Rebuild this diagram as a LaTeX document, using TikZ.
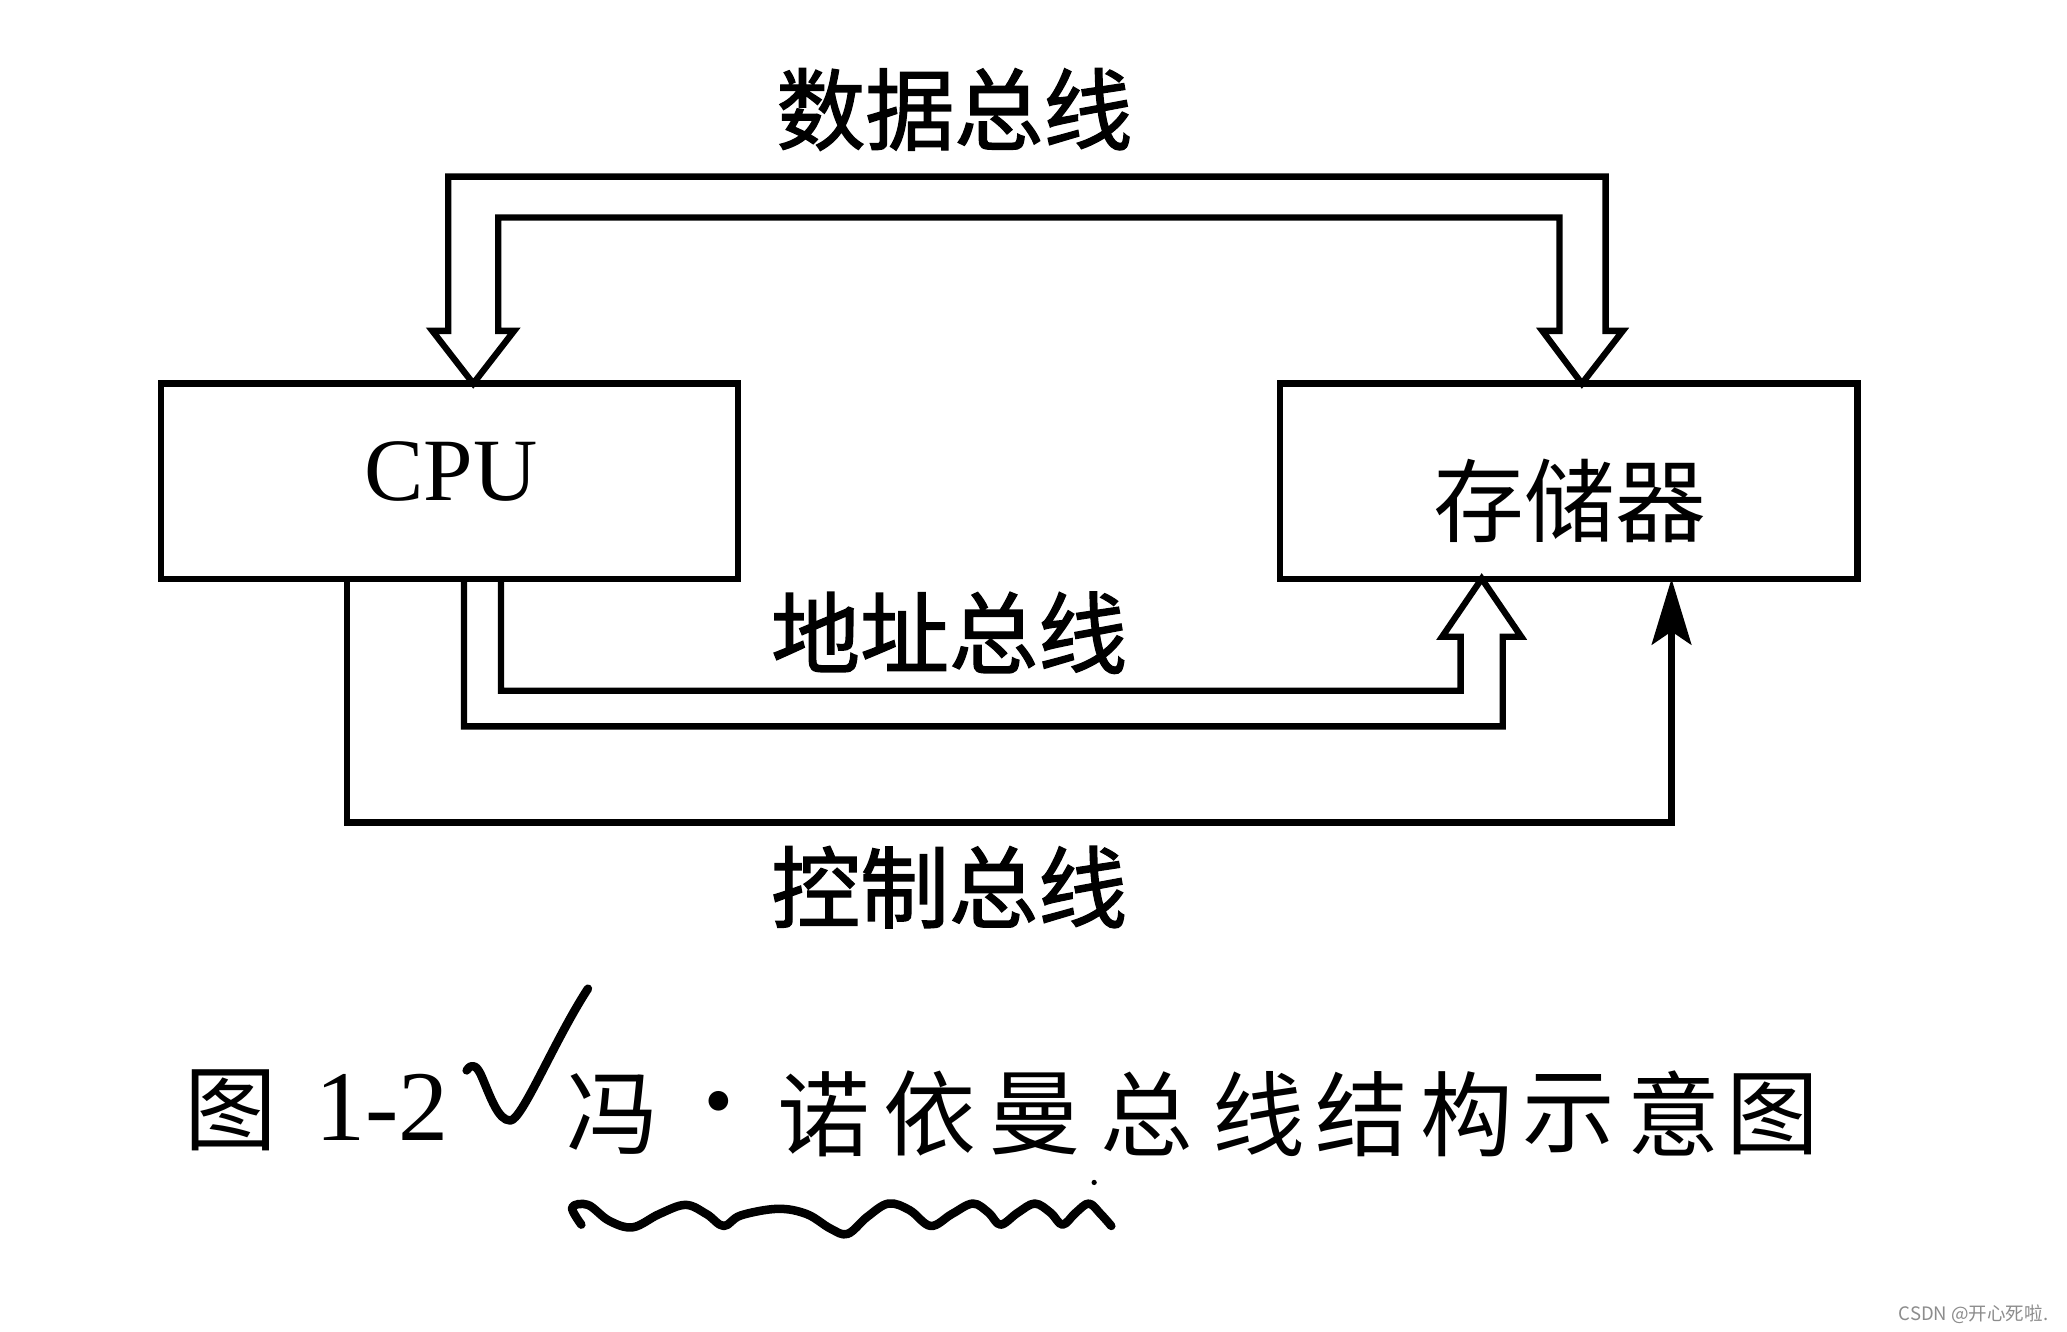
\documentclass[tikz,border=0pt]{standalone}
\usepackage{fontspec}
\setmainfont{Liberation Serif}
\newfontfamily\cjk{Noto Sans CJK SC}
\newfontfamily\cjkb{Noto Sans CJK SC}[FakeBold=1.6]
\usetikzlibrary{arrows.meta}
\tikzset{
  box/.style={draw, line width=3.4pt, minimum width=10.95cm, minimum height=3.7cm, inner sep=0pt},
  bus/.style={line width=3.4pt, line join=miter},
  buslabel/.style={font=\cjkb\fontsize{48}{50}\selectfont, inner sep=0pt},
  captext/.style={font=\cjk\fontsize{50}{52}\selectfont, inner sep=0pt},
  pen/.style={line width=4.6pt, line cap=round, line join=round},
}
\begin{document}
\begin{tikzpicture}[x=0.025cm,y=-0.025cm]
\useasboundingbox[fill=white] (0,0) rectangle (1568,1010);

% boxes
\node[box] (cpu) at (341,365) {};
\node[font=\fontsize{48}{50}\selectfont, inner sep=0pt] (cputxt) at (342,358) {CPU};
\node[box] (mem) at (1190,365) {};
\node[font=\cjk\fontsize{49}{51}\selectfont, inner sep=0pt] (memtxt) at (1191,380) {存储器};

% data bus (hollow double-headed arrow)
\coordinate (dtipL) at (359,291);
\coordinate (dtipR) at (1200,291);
\draw[bus] (dtipL) -- (328,251) -- (340,251) -- (340,134) -- (1218,134) -- (1218,251)
  -- (1231,251) -- (dtipR) -- (1170,251) -- (1183,251) -- (1183,165) -- (378,165)
  -- (378,251) -- (390,251) -- cycle;
\node[buslabel] (dlabel) at (724,83) {数据总线};

% address bus (hollow arrow to memory)
\coordinate (atip) at (1124,439);
\draw[bus] (380,439) -- (380,524) -- (1108,524) -- (1108,483) -- (1094,483) -- (atip)
  -- (1154,483) -- (1140,483) -- (1140,551) -- (352,551) -- (352,439);
\node[buslabel] (alabel) at (720,480) {地址总线};

% control bus (single line with filled arrow)
\coordinate (cstart) at (263,439);
\coordinate (cend) at (1268,439);
\draw[line width=3.4pt, -{Stealth[length=1.25cm, width=0.75cm, inset=0.25cm]}]
  (cstart) |- (1268,624) -- (cend);
\node[buslabel] (clabel) at (720,673) {控制总线};

% caption
\node[captext] (c0) at (175,842) {图};
\node[font=\fontsize{54}{56}\selectfont, inner sep=0pt] (cnum) at (290,840) {1-2};
\foreach \ch/\xx [count=\i] in {冯/465, ·/545, 诺/625, 依/705, 曼/785, 总/870, 线/955, 结/1033, 构/1113, 示/1190, 意/1270, 图/1345}
  \node[captext] (c\i) at (\xx,845) {\ch};

% handwritten check mark
\draw[pen] (354,812) .. controls (358,806) and (362,808) .. (366,818)
  .. controls (372,832) and (378,850) .. (387,850)
  .. controls (396,850) and (420,790) .. (446,750);

% handwritten wavy underline
\draw[pen] plot[smooth, tension=0.6] coordinates {(441,929) (434,916) (446,914) (462,926) (480,931) (500,921) (520,914) (536,921) (549,930) (562,922) (590,917) (612,921) (630,932) (643,936) (658,923) (674,913) (690,918) (706,930) (722,921) (738,913) (750,920) (759,929) (772,920) (785,913) (797,920) (806,929) (816,920) (826,913) (835,921) (843,930)};
\fill (830,897) circle (2);

% watermark
\node[font=\cjk\fontsize{10}{12}\selectfont, text=black!45, inner sep=0pt] (wm) at (1497,997) {CSDN @开心死啦.};
\end{tikzpicture}
\end{document}
